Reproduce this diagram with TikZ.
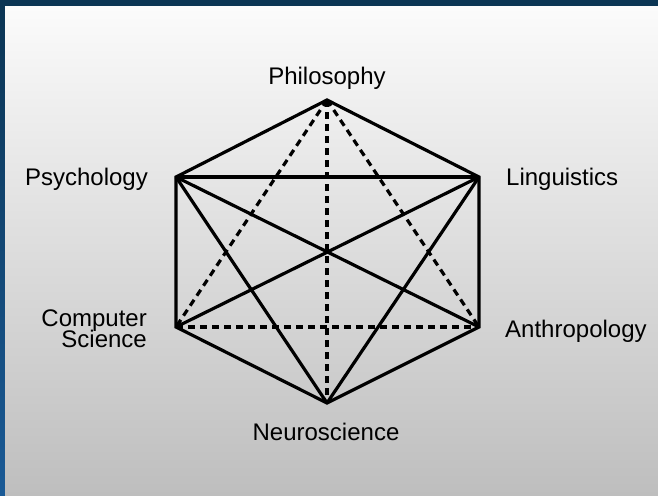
\documentclass[tikz,border=0pt]{standalone}
\usepackage{fontspec}
\setmainfont{Liberation Sans}
\definecolor{frameNavy}{HTML}{0B3554}
\definecolor{stripBlue}{HTML}{1A5A96}
\definecolor{panelTop}{HTML}{FBFBFB}
\definecolor{panelBottom}{HTML}{BEBEBE}
\begin{document}
\begin{tikzpicture}[x=1pt, y=-1pt,
		edge/.style={line width=3.2pt, line join=miter},
		hidden/.style={line width=3.2pt, dash pattern=on 7pt off 5pt},
		field/.style={font=\fontsize{24}{20}\selectfont, inner sep=0pt}]
			% frame and panel
			\useasboundingbox (0,0) rectangle (658,495);
			\fill[frameNavy] (0,0) rectangle (658,7);
			\shade[top color=frameNavy, bottom color=stripBlue] (0,7) rectangle (5,495);
			\shade[top color=panelTop, bottom color=panelBottom] (5,7) rectangle (658,495);

			% vertices
			\coordinate (phil) at (327,100);
			\coordinate (psych) at (176,177);
			\coordinate (ling) at (479,177);
			\coordinate (comp) at (176,327);
			\coordinate (anth) at (479,327);
			\coordinate (neuro) at (327,403);

			% hidden edges
			\draw[hidden] (phil) -- (comp);
			\draw[hidden] (phil) -- (anth);
			\draw[hidden] (phil) -- (neuro);
			\draw[hidden] (comp) -- (anth);

			% outline and front edges
			\draw[edge] (phil) -- (psych) -- (comp) -- (neuro) -- (anth) -- (ling) -- cycle;
			\draw[edge] (psych) -- (ling);
			\draw[edge] (psych) -- (anth);
			\draw[edge] (ling) -- (comp);
			\draw[edge] (psych) -- (neuro);
			\draw[edge] (ling) -- (neuro);

			% labels
			\node[field, anchor=base] (philLabel) at (327,84) {Philosophy};
			\node[field, anchor=base east] (psychLabel) at (148,185) {Psychology};
			\node[field, anchor=base west] (lingLabel) at (506,185) {Linguistics};
			\node[field, anchor=base east, align=right] (compLabel) at (147,347) {Computer\\[-3pt]Science};
			\node[field, anchor=base west] (anthLabel) at (505,337) {Anthropology};
			\node[field, anchor=base] (neuroLabel) at (326,440) {Neuroscience};
		\end{tikzpicture}
\end{document}
